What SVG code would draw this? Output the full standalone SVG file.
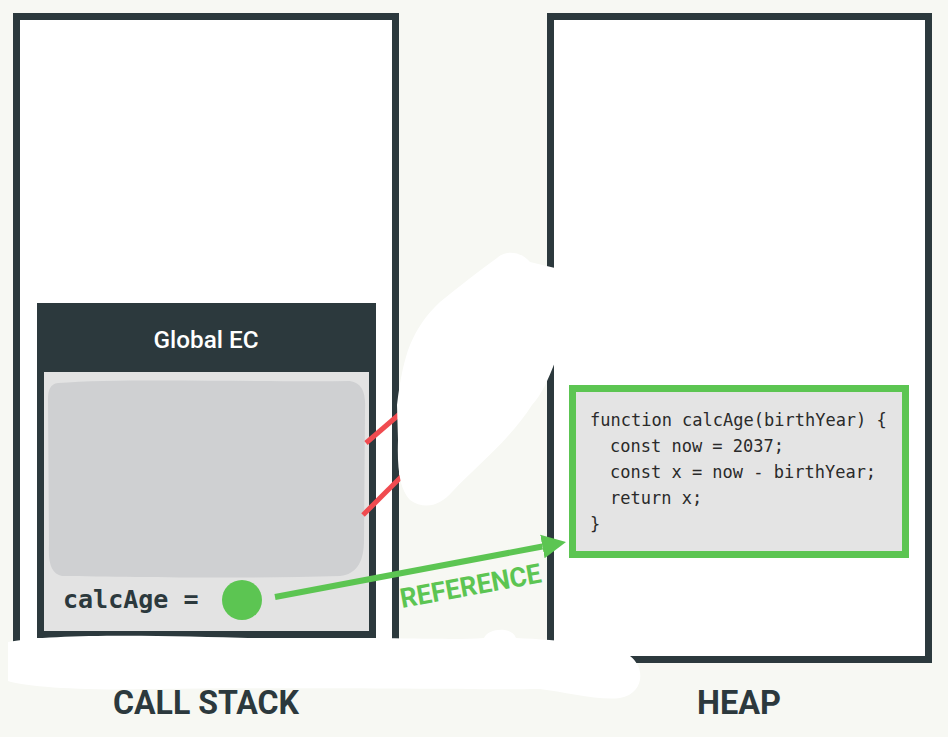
<svg xmlns="http://www.w3.org/2000/svg" width="948" height="737" viewBox="0 0 948 737">
  <defs>
    <style>
      .frame { fill: #ffffff; stroke: #2c393d; stroke-width: 7; }
      .label { font-family: Roboto, "Liberation Sans", sans-serif; font-weight: 700; fill: #2c393d; }
      .code { font-family: "DejaVu Sans Mono", "Liberation Mono", monospace; font-size: 17px; fill: #2a2a2a; }
      .blob { fill: #ffffff; }
      .red { stroke: #f04b50; stroke-width: 5; stroke-linecap: butt; }
    </style>
    <marker id="arrow" viewBox="0 -13 25 26" refX="0" refY="0" markerWidth="25" markerHeight="26" markerUnits="userSpaceOnUse" orient="auto">
      <path d="M0,-12 L24,0 L0,12 Z" fill="#5cc552"/>
    </marker>
  </defs>

  <rect width="948" height="737" fill="#f7f8f3"/>

  <g id="call-stack">
    <rect class="frame" x="16.5" y="16.5" width="379" height="650"/>
  </g>

  <g id="heap">
    <rect class="frame" x="550.5" y="16.5" width="378" height="643"/>
  </g>

  <g id="global-ec">
    <rect x="37" y="303" width="339" height="335" fill="#2c393d"/>
    <rect x="44" y="372" width="325" height="259" fill="#e3e3e3"/>
    <path d="M58,383 C120,378 250,382 350,381 C362,383 366,392 365,410 L364,540 C364,560 358,574 340,576 C250,579 130,577 62,576 C52,574 48,565 49,545 L48,400 C48,390 50,384 58,383 Z" fill="#cfd0d2"/>
    <text x="206" y="348" text-anchor="middle" font-family="Roboto, 'Liberation Sans', sans-serif" font-weight="500" font-size="23" fill="#ffffff" textLength="105" lengthAdjust="spacingAndGlyphs">Global EC</text>
    <text x="63" y="608" font-family="'DejaVu Sans Mono', 'Liberation Mono', monospace" font-weight="700" font-size="25" fill="#2c393d">calcAge =</text>
    <circle cx="242" cy="600" r="20" fill="#5cc552"/>
  </g>

  <g id="heap-function">
    <rect x="572.5" y="388.5" width="333" height="166" fill="#e4e4e4" stroke="#5cc552" stroke-width="7"/>
    <text class="code" x="590" y="426">function calcAge(birthYear) {</text>
    <text class="code" x="610" y="452">const now = 2037;</text>
    <text class="code" x="610" y="478">const x = now - birthYear;</text>
    <text class="code" x="610" y="504">return x;</text>
    <text class="code" x="590" y="530">}</text>
  </g>

  <g id="connectors">
    <line class="red" x1="366" y1="443" x2="402" y2="412"/>
    <line class="red" x1="363" y1="515" x2="402" y2="476"/>
    <line x1="275" y1="597" x2="542.4" y2="546.5" stroke="#5cc552" stroke-width="6" marker-end="url(#arrow)"/>
    <text transform="rotate(-10.4 402 608)" x="402" y="608" font-family="Roboto, 'Liberation Sans', sans-serif" font-weight="700" font-size="27" fill="#5cc552" textLength="143" lengthAdjust="spacingAndGlyphs">REFERENCE</text>
  </g>

  <g id="erasures">
    <path class="blob" d="M497,258 C506,249 522,252 530,262 L555,268 L555,362 C548,380 542,394 532,405 C510,440 472,470 452,492 C440,506 424,510 410,500 C400,490 397,470 398,440 L397,405 C400,380 404,360 410,345 C416,330 426,315 440,302 C460,286 480,270 497,258 Z"/>
    <path class="blob" d="M8,642 C60,632 200,636 300,640 C380,636 450,641 484,638 C488,628 512,626 516,638 C560,640 610,644 630,656 C646,668 644,694 620,698 C600,701 565,692 540,689 C450,690 300,687 150,689 C80,691 20,686 8,681 Z"/>
  </g>

  <g id="titles">
    <text class="label" x="113" y="714" font-size="34" textLength="186" lengthAdjust="spacingAndGlyphs">CALL STACK</text>
    <text class="label" x="697" y="714" font-size="34" textLength="84" lengthAdjust="spacingAndGlyphs">HEAP</text>
  </g>
</svg>
